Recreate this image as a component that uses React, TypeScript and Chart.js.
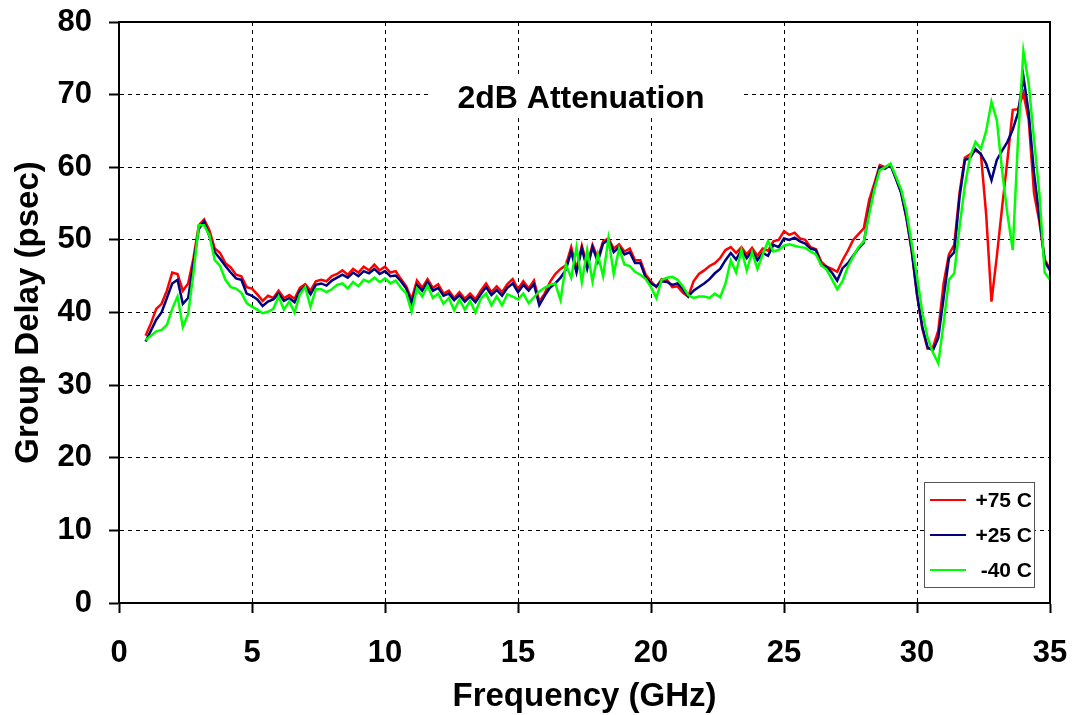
import React, { useEffect, useRef } from "react";
import { Chart, registerables } from "chart.js";

Chart.register(...registerables);

const chartTitle = "2dB Attenuation";
const xAxisTitle = "Frequency (GHz)";
const yAxisTitle = "Group Delay (psec)";
const seriesLabels = ["+75 C", "+25 C", "-40 C"];
const seriesColors = ["#FF0000", "#000080", "#00FF00"];
const xTicks = [0, 5, 10, 15, 20, 25, 30, 35];
const yTicks = [0, 10, 20, 30, 40, 50, 60, 70, 80];

const freq = [
  1, 1.2, 1.4, 1.6, 1.8, 2, 2.2, 2.4, 2.6, 2.8,
  3, 3.2, 3.4, 3.6, 3.8, 4, 4.2, 4.4, 4.6, 4.8,
  5, 5.2, 5.4, 5.6, 5.8, 6, 6.2, 6.4, 6.6, 6.8,
  7, 7.2, 7.4, 7.6, 7.8, 8, 8.2, 8.4, 8.6, 8.8,
  9, 9.2, 9.4, 9.6, 9.8, 10, 10.2, 10.4, 10.6, 10.8,
  11, 11.2, 11.4, 11.6, 11.8, 12, 12.2, 12.4, 12.6, 12.8,
  13, 13.2, 13.4, 13.6, 13.8, 14, 14.2, 14.4, 14.6, 14.8,
  15, 15.2, 15.4, 15.6, 15.8, 16, 16.2, 16.4, 16.6, 16.8,
  17, 17.2, 17.4, 17.6, 17.8, 18, 18.2, 18.4, 18.6, 18.8,
  19, 19.2, 19.4, 19.6, 19.8, 20, 20.2, 20.4, 20.6, 20.8,
  21, 21.2, 21.4, 21.6, 21.8, 22, 22.2, 22.4, 22.6, 22.8,
  23, 23.2, 23.4, 23.6, 23.8, 24, 24.2, 24.4, 24.6, 24.8,
  25, 25.2, 25.4, 25.6, 25.8, 26, 26.2, 26.4, 26.6, 26.8,
  27, 27.2, 27.4, 27.6, 27.8, 28, 28.2, 28.4, 28.6, 28.8,
  29, 29.2, 29.4, 29.6, 29.8, 30, 30.2, 30.4, 30.6, 30.8,
  31, 31.2, 31.4, 31.6, 31.8, 32, 32.2, 32.4, 32.6, 32.8,
  33, 33.2, 33.4, 33.6, 33.8, 34, 34.2, 34.4, 34.6, 34.8,
  35,
];

const plus75 = [
  36.8, 38.5, 40.5, 41.2, 43.0, 45.5, 45.3, 43.0, 44.0, 47.5,
  52.0, 52.8, 51.3, 48.8, 48.2, 46.8, 46.2, 45.2, 45.0, 43.5,
  43.3, 42.5, 41.6, 42.3, 42.0, 43.0, 42.0, 42.4, 41.9, 43.4,
  43.9, 43.0, 44.3, 44.5, 44.3, 45.0, 45.3, 45.8, 45.2, 46.0,
  45.5, 46.3, 45.8, 46.6, 45.8, 46.3, 45.5, 45.7, 44.6, 43.6,
  41.8, 44.4, 43.4, 44.6, 43.4, 43.9, 42.6, 43.0, 42.0, 42.8,
  41.9, 42.6, 41.8, 43.0, 44.0, 42.8, 43.6, 42.8, 43.9, 44.6,
  43.2, 44.3, 43.3, 44.4, 41.5, 42.6, 44.2, 45.3, 46.0, 46.5,
  49.0, 46.0, 49.2, 46.5, 49.3, 47.5, 49.8, 50.2, 48.8, 49.4,
  48.4, 48.8, 47.2, 47.2, 45.2, 44.3, 43.5, 44.6, 44.5, 43.5,
  43.6, 42.7, 42.2, 44.3, 45.3, 45.8, 46.4, 46.8, 47.5, 48.6,
  49.0, 48.2, 49.0, 48.0, 48.9, 47.8, 48.8, 48.5, 49.8, 50.0,
  51.2, 50.7, 51.0, 50.2, 50.0, 49.0, 48.7, 47.0, 46.3, 46.0,
  45.6, 47.2, 48.5, 50.0, 50.8, 51.6, 55.5, 57.8, 60.3, 60.0,
  60.4, 58.5, 56.6, 53.0, 48.5, 42.5, 37.8, 35.0, 35.2, 37.5,
  44.0, 48.0, 49.3, 56.5, 61.3, 61.8, 62.3, 61.9, 53.5, 41.5,
  47.7, 54.5, 61.0, 67.9, 68.0, 70.2, 66.5, 56.4, 52.5, 47.3,
  46.0,
];

const plus25 = [
  36.0, 37.5, 39.0, 40.0, 42.0, 44.0, 44.5, 41.2, 42.0, 46.8,
  51.5, 52.5, 50.5, 48.3, 47.4, 46.4, 45.5, 44.7, 44.5, 42.6,
  42.3, 41.8, 40.9, 41.5, 41.8, 42.6, 41.6, 42.0, 41.4, 43.0,
  43.6, 42.5, 43.8, 44.0, 43.7, 44.4, 44.8, 45.2, 44.8, 45.5,
  45.0, 45.7, 45.4, 46.0, 45.3, 45.7, 45.0, 45.1, 44.3, 43.3,
  41.3, 43.8, 43.0, 44.2, 43.0, 43.4, 42.3, 42.6, 41.7, 42.4,
  41.5, 42.2, 41.4, 42.5, 43.5, 42.4, 43.1, 42.3, 43.4, 44.0,
  42.8, 43.8, 43.0, 43.9, 41.0, 42.3, 43.4, 44.0, 44.8, 45.9,
  48.4, 45.5, 48.8, 46.0, 49.0, 47.0, 49.5, 50.0, 48.3, 49.0,
  48.0, 48.3, 46.8, 46.8, 44.8, 44.0, 43.6, 44.3, 44.2, 43.8,
  44.0, 43.2, 42.2, 43.0, 43.5, 44.0, 44.6, 45.4, 46.0, 47.2,
  48.2, 47.3, 48.6, 47.5, 48.4, 47.2, 48.2, 47.8, 49.3, 49.0,
  50.2, 50.0, 50.3, 49.8, 49.5, 48.8, 48.6, 46.5, 46.3, 45.5,
  44.4, 46.1, 46.8, 47.8, 48.8, 49.6, 54.0, 57.3, 60.0, 59.8,
  60.3, 58.5, 56.5, 53.2, 48.6, 42.5, 38.0, 35.2, 34.8, 36.5,
  42.0, 47.5, 48.3, 55.9, 61.0, 61.3, 62.5, 61.8, 60.5, 58.2,
  61.0, 62.3, 63.5, 65.2, 67.5, 72.5, 67.5, 59.2, 53.2, 47.0,
  45.8,
];

const minus40 = [
  36.2, 36.8, 37.4, 37.6, 38.3, 40.5, 42.2, 38.0, 39.8, 45.5,
  52.0, 52.0, 50.6, 47.2, 46.4, 44.5, 43.5, 43.3, 42.7, 41.3,
  40.8, 40.4, 39.9, 40.1, 40.5, 42.2, 40.4, 41.5, 40.0, 42.5,
  43.5, 40.8, 43.2, 43.2, 42.8, 43.2, 43.8, 44.0, 43.3, 44.2,
  43.6, 44.5, 44.2, 44.8, 44.2, 44.7, 44.0, 44.4, 43.4, 42.6,
  40.1, 43.3, 42.2, 43.7, 42.0, 42.6, 41.2, 42.0, 40.3, 41.8,
  40.4, 41.6, 40.0, 41.9, 42.6, 41.0, 42.2, 41.0, 42.5, 42.2,
  41.8, 42.6, 41.3, 42.1, 42.9, 43.4, 43.8, 44.0, 41.7, 46.6,
  44.8, 49.0, 44.2, 48.6, 44.3, 48.0, 45.0, 50.2, 45.3, 48.8,
  46.6, 46.4, 45.6, 45.2, 44.6, 43.5, 42.0, 44.5, 44.8, 44.9,
  44.5, 43.6, 42.4, 42.0, 42.2, 42.2, 42.0, 42.6, 42.1, 44.0,
  47.2, 45.5, 48.6, 45.8, 48.3, 46.0, 48.0, 49.8, 48.4, 48.6,
  49.2, 49.4, 49.2, 49.0, 48.9, 48.4, 48.0, 46.5, 45.9, 44.6,
  43.2, 44.3, 46.3, 47.7, 49.0, 49.8, 53.5, 57.0, 59.6, 60.0,
  60.5, 58.8, 57.0, 54.0, 49.5, 45.0, 40.0, 36.5, 34.5, 33.0,
  38.5, 44.5, 45.4, 51.8, 57.5, 61.5, 63.5, 62.5, 65.0, 69.0,
  66.5, 59.5, 53.5, 48.6, 64.0, 76.0, 71.5, 63.8, 56.4, 45.5,
  44.5,
];

const FONT = '"Liberation Sans", Arial, Helvetica, sans-serif';

export default function App() {
  const ref = useRef<HTMLCanvasElement>(null);

  useEffect(() => {
    const canvas = ref.current;
    if (!canvas) return;
    const toPts = (arr: number[]) => arr.map((y, i) => ({ x: freq[i], y }));
    const seriesData = [plus75, plus25, minus40];

    const overlay = {
      id: "overlay",
      afterDatasetsDraw(chart: any) {
        const { ctx, chartArea } = chart;
        const { left, right, top, bottom } = chartArea;
        ctx.save();
        ctx.setLineDash([]);
        ctx.strokeStyle = "#000";
        ctx.lineWidth = 2;
        ctx.beginPath();
        ctx.moveTo(left, top);
        ctx.lineTo(right, top);
        ctx.lineTo(right, bottom);
        ctx.stroke();

        // title with white backing
        ctx.fillStyle = "#fff";
        ctx.fillRect(432, 78, 308, 40);
        ctx.fillStyle = "#000";
        ctx.font = `bold 32px ${FONT}`;
        ctx.textAlign = "center";
        ctx.textBaseline = "middle";
        ctx.fillText(chartTitle, 581, 99);

        // legend
        ctx.fillStyle = "#fff";
        ctx.fillRect(924.5, 482.5, 110, 105);
        ctx.strokeStyle = "#555";
        ctx.lineWidth = 1;
        ctx.strokeRect(924.5, 482.5, 110, 105);
        const rows = [500, 535, 570];
        ctx.font = `bold 21px ${FONT}`;
        ctx.textAlign = "right";
        ctx.textBaseline = "middle";
        seriesLabels.forEach((lab, i) => {
          ctx.strokeStyle = seriesColors[i];
          ctx.lineWidth = 2;
          ctx.beginPath();
          ctx.moveTo(930, rows[i]);
          ctx.lineTo(966, rows[i]);
          ctx.stroke();
          ctx.fillStyle = "#000";
          ctx.fillText(lab, 1032, rows[i] + 1);
        });
        ctx.restore();
      },
    };

    const order = [2, 1, 0];
    const chart = new Chart(canvas, {
      type: "line",
      data: {
        datasets: order.map((k) => ({
          label: seriesLabels[k],
          data: toPts(seriesData[k]),
          borderColor: seriesColors[k],
          backgroundColor: seriesColors[k],
          borderWidth: 2.5,
          pointRadius: 0,
          tension: 0,
          fill: false,
        })),
      },
      options: {
        animation: false,
        responsive: false,
        events: [],
        layout: { padding: { left: 0, top: 22, right: 27, bottom: 0 } },
        plugins: { legend: { display: false }, tooltip: { enabled: false } },
        scales: {
          x: {
            type: "linear",
            min: 0,
            max: 35,
            afterBuildTicks: (s: any) => {
              s.ticks = xTicks.map((v) => ({ value: v }));
            },
            afterFit: (s: any) => {
              s.height = 112;
              s.paddingLeft = 0;
              s.paddingRight = 0;
              s.paddingTop = 0;
              s.paddingBottom = 0;
            },
            ticks: {
              color: "#000",
              font: { family: FONT, size: 31, weight: "bold" },
              padding: 22,
              maxRotation: 0,
              autoSkip: false,
            },
            grid: {
              color: "#000",
              lineWidth: 1,
              drawTicks: true,
              tickLength: 10,
              tickColor: "#000",
              tickWidth: 2,
              tickBorderDash: [],
            },
            border: { display: true, color: "#000", width: 2, dash: [4, 4] },
            title: {
              display: true,
              text: xAxisTitle,
              color: "#000",
              font: { family: FONT, size: 33, weight: "bold", lineHeight: 1 },
              padding: { top: 0, bottom: 2 },
            },
          },
          y: {
            type: "linear",
            min: 0,
            max: 80,
            afterBuildTicks: (s: any) => {
              s.ticks = yTicks.map((v) => ({ value: v }));
            },
            afterFit: (s: any) => {
              s.width = 119;
              s.paddingLeft = 0;
              s.paddingRight = 0;
              s.paddingTop = 0;
              s.paddingBottom = 0;
            },
            ticks: {
              color: "#000",
              font: { family: FONT, size: 31, weight: "bold" },
              padding: 17,
              autoSkip: false,
            },
            grid: {
              color: "#000",
              lineWidth: 1,
              drawTicks: true,
              tickLength: 10,
              tickColor: "#000",
              tickWidth: 2,
              tickBorderDash: [],
            },
            border: { display: true, color: "#000", width: 2, dash: [4, 4] },
            title: {
              display: true,
              text: yAxisTitle,
              color: "#000",
              font: { family: FONT, size: 33, weight: "bold", lineHeight: 1 },
              padding: { top: 12, bottom: 0 },
            },
          },
        },
      },
      plugins: [overlay],
    } as any);

    return () => chart.destroy();
  }, []);

  return (
    <div
      style={{
        position: "fixed",
        left: 0,
        top: 0,
        width: 1077,
        height: 715,
        background: "#fff",
      }}
    >
      <canvas ref={ref} width={1077} height={715} />
    </div>
  );
}
